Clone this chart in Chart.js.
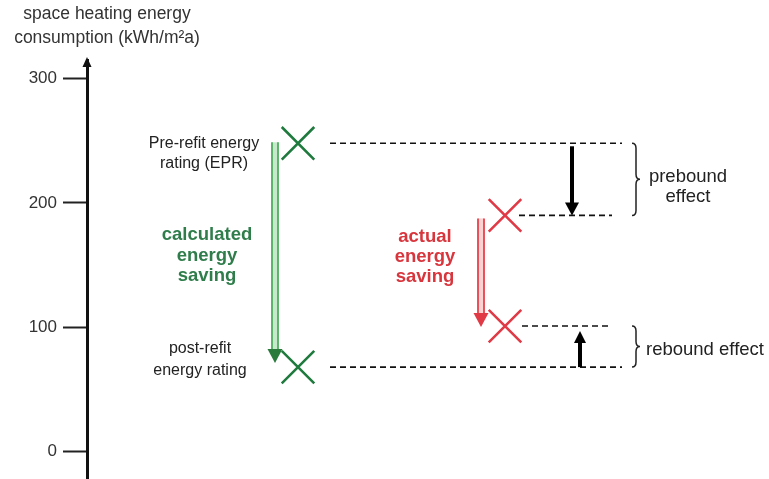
<!DOCTYPE html>
<html>
<head>
<meta charset="utf-8">
<script src="https://cdn.jsdelivr.net/npm/chart.js@4.4.0/dist/chart.umd.min.js"></script>
<style>
  html, body { margin: 0; padding: 0; background: #ffffff; }
  canvas { display: block; }
</style>
</head>
<body>
<canvas id="c" width="769" height="479"></canvas>
<script>
// ---------------- DATA ----------------
const yTicks = [0, 100, 200, 300];
const axisTitle = ['space heating energy', 'consumption (kWh/m\u00B2a)'];
// calculated (rating) values: pre-refit EPR, post-refit rating
const calculatedValues = [248, 68];
// actual consumption: before refit, after refit
const actualValues = [190, 101];
const preRatingLabel = ['Pre-refit energy', 'rating (EPR)'];
const postRatingLabel = ['post-refit', 'energy rating'];
const calculatedSavingLabel = ['calculated', 'energy', 'saving'];
const actualSavingLabel = ['actual', 'energy', 'saving'];
const preboundLabel = ['prebound', 'effect'];
const reboundLabel = ['rebound effect'];

// ---------------- LAYOUT / STYLE ----------------
// x scale runs 0..682 across the plot area (axis at the left edge)
const POS = {
  calc: 211, act: 418,
  dashCalcFrom: 243, dashTo: 535,
  dashActFrom: 432, dashActTo: 525,
  greenArrow: 188, redArrow: 394,
  preArrow: 485, reArrow: 493,
  braceL: 545, braceR: 553,
  preLabelX: 117, postLabelX: 113,
  calcTextX: 120, actTextX: 338,
  preboundTextX: 601, reboundTextX: 559
};
const FONT = "'Liberation Sans', Arial, Helvetica, sans-serif";
const GREEN_X = '#1f7a3e';
const GREEN_TXT = '#2f7d4b';
const GREEN_HEAD = '#2a7a3c';
const GREEN_LINE = '#4fae60';
const GREEN_FILL = '#c6e8cb';
const RED_X = '#e03a46';
const RED_TXT = '#d8353d';
const RED_LINE = '#e8424c';
const RED_FILL = '#fbd3d3';
const INK = '#222222';

function dashed(xFrom, xTo, v) {
  return {
    type: 'line',
    data: [{ x: xFrom, y: v }, { x: xTo, y: v }],
    borderColor: '#111',
    borderWidth: 1.6,
    borderDash: [6, 4],
    pointRadius: 0,
    showLine: true,
    fill: false
  };
}

function arrowDown(ctx, x, yTop, yTip, headH, headW, shaftW, color) {
  ctx.fillStyle = color;
  ctx.fillRect(x - shaftW / 2, yTop, shaftW, yTip - headH - yTop + 1);
  ctx.beginPath();
  ctx.moveTo(x - headW / 2, yTip - headH);
  ctx.lineTo(x + headW / 2, yTip - headH);
  ctx.lineTo(x, yTip);
  ctx.closePath();
  ctx.fill();
}
function arrowUp(ctx, x, yBottom, yTip, headH, headW, shaftW, color) {
  ctx.fillStyle = color;
  ctx.fillRect(x - shaftW / 2, yTip + headH - 1, shaftW, yBottom - (yTip + headH) + 1);
  ctx.beginPath();
  ctx.moveTo(x - headW / 2, yTip + headH);
  ctx.lineTo(x + headW / 2, yTip + headH);
  ctx.lineTo(x, yTip);
  ctx.closePath();
  ctx.fill();
}
function hollowArrowDown(ctx, x, yTop, yTip, lineColor, fillColor, headColor) {
  const headH = 14, headW = 15, w = 6;
  const yBase = yTip - headH;
  ctx.fillStyle = fillColor;
  ctx.fillRect(x - w / 2, yTop, w, yBase - yTop);
  ctx.strokeStyle = lineColor;
  ctx.lineWidth = 1.8;
  ctx.beginPath();
  ctx.moveTo(x - w / 2, yTop); ctx.lineTo(x - w / 2, yBase);
  ctx.moveTo(x + w / 2, yTop); ctx.lineTo(x + w / 2, yBase);
  ctx.stroke();
  ctx.fillStyle = headColor;
  ctx.beginPath();
  ctx.moveTo(x - headW / 2, yBase);
  ctx.lineTo(x + headW / 2, yBase);
  ctx.lineTo(x, yTip);
  ctx.closePath();
  ctx.fill();
}
function brace(ctx, xL, xR, y1, y2) {
  const xM = (xL + xR) / 2;
  const ym = (y1 + y2) / 2;
  const r = 5;
  ctx.strokeStyle = INK;
  ctx.lineWidth = 1.5;
  ctx.beginPath();
  ctx.moveTo(xL, y1);
  ctx.quadraticCurveTo(xM, y1, xM, y1 + r);
  ctx.lineTo(xM, ym - r);
  ctx.quadraticCurveTo(xM, ym, xR, ym);
  ctx.quadraticCurveTo(xM, ym, xM, ym + r);
  ctx.lineTo(xM, y2 - r);
  ctx.quadraticCurveTo(xM, y2, xL, y2);
  ctx.stroke();
}
function lines(ctx, arr, x, y0, step, align, baseline) {
  ctx.textAlign = align;
  ctx.textBaseline = baseline;
  arr.forEach((t, i) => ctx.fillText(t, x, y0 + i * step));
}

const overlay = {
  id: 'overlay',
  afterDatasetsDraw(chart) {
    const ctx = chart.ctx;
    const xs = chart.scales.x, ys = chart.scales.y;
    const X = v => xs.getPixelForValue(v);
    const Y = v => ys.getPixelForValue(v);
    const area = chart.chartArea;
    ctx.save();

    // y-axis arrow head
    ctx.fillStyle = '#111';
    ctx.beginPath();
    ctx.moveTo(area.left - 4.5, area.top + 7);
    ctx.lineTo(area.left + 4.5, area.top + 7);
    ctx.lineTo(area.left, area.top - 3);
    ctx.closePath();
    ctx.fill();

    // axis title
    ctx.fillStyle = '#333';
    ctx.font = '17.5px ' + FONT;
    lines(ctx, axisTitle, 107, 14, 24, 'center', 'middle');

    const yPre = Y(calculatedValues[0]), yPost = Y(calculatedValues[1]);
    const yActA = Y(actualValues[0]), yActB = Y(actualValues[1]);

    // rating labels
    ctx.fillStyle = INK;
    ctx.font = '16px ' + FONT;
    lines(ctx, preRatingLabel, X(POS.preLabelX), yPre, 20, 'center', 'middle');
    lines(ctx, postRatingLabel, X(POS.postLabelX), yPost - 19, 22, 'center', 'middle');

    // saving texts
    ctx.font = 'bold 18.5px ' + FONT;
    ctx.fillStyle = GREEN_TXT;
    lines(ctx, calculatedSavingLabel, X(POS.calcTextX), (yPre + yPost) / 2 - 15, 20.5, 'center', 'alphabetic');
    ctx.fillStyle = RED_TXT;
    lines(ctx, actualSavingLabel, X(POS.actTextX), (yActA + yActB) / 2 - 29, 20, 'center', 'alphabetic');

    // saving arrows
    hollowArrowDown(ctx, X(POS.greenArrow), yPre - 1, yPost - 4, GREEN_LINE, GREEN_FILL, GREEN_HEAD);
    hollowArrowDown(ctx, X(POS.redArrow), yActA + 3, yActB + 1, RED_LINE, RED_FILL, RED_X);

    // prebound / rebound arrows
    arrowDown(ctx, X(POS.preArrow), yPre + 3, yActA, 13, 14, 4, '#000');
    arrowUp(ctx, X(POS.reArrow), yPost, yActB + 5, 12, 12, 4, '#000');

    // braces
    brace(ctx, X(POS.braceL), X(POS.braceR), yPre, yActA);
    brace(ctx, X(POS.braceL), X(POS.braceR), yActB, yPost);

    ctx.fillStyle = INK;
    ctx.font = '18.5px ' + FONT;
    lines(ctx, preboundLabel, X(POS.preboundTextX), (yPre + yActA) / 2 - 2, 20, 'center', 'middle');
    lines(ctx, reboundLabel, X(POS.reboundTextX), (yActB + yPost) / 2 + 3, 20, 'left', 'middle');

    ctx.restore();
  }
};

new Chart(document.getElementById('c'), {
  type: 'scatter',
  data: {
    datasets: [
      dashed(POS.dashCalcFrom, POS.dashTo, calculatedValues[0]),
      dashed(POS.dashCalcFrom, POS.dashTo, calculatedValues[1]),
      dashed(POS.dashActFrom, POS.dashActTo, actualValues[0]),
      dashed(POS.dashActFrom + 3, POS.dashActTo, actualValues[1]),
      {
        label: 'calculated',
        data: calculatedValues.map(v => ({ x: POS.calc, y: v })),
        pointStyle: 'crossRot',
        pointRadius: 23,
        pointBorderWidth: 2.6,
        borderColor: GREEN_X,
        backgroundColor: GREEN_X
      },
      {
        label: 'actual',
        data: actualValues.map(v => ({ x: POS.act, y: v })),
        pointStyle: 'crossRot',
        pointRadius: 23,
        pointBorderWidth: 2.6,
        borderColor: RED_X,
        backgroundColor: RED_X
      }
    ]
  },
  options: {
    responsive: false,
    animation: false,
    devicePixelRatio: 1,
    layout: { autoPadding: false, padding: { top: 60, left: 0, right: 0, bottom: 0 } },
    plugins: { legend: { display: false }, tooltip: { enabled: false } },
    scales: {
      x: {
        type: 'linear', display: false, min: 0, max: 682,
        afterFit: s => { s.paddingLeft = 0; s.paddingRight = 0; s.paddingTop = 0; s.paddingBottom = 0; }
      },
      y: {
        type: 'linear',
        min: -22, max: 315,
        afterBuildTicks: s => { s.ticks = yTicks.map(v => ({ value: v })); },
        afterFit: s => {
          s.width = 87;
          s.paddingTop = 0; s.paddingBottom = 0; s.paddingLeft = 0; s.paddingRight = 0;
        },
        grid: { drawOnChartArea: false, drawTicks: true, tickLength: 24, tickWidth: 2, tickColor: '#222' },
        border: { display: true, color: '#111', width: 3 },
        ticks: { font: { family: FONT, size: 17 }, color: '#333', padding: 6 }
      }
    }
  },
  plugins: [overlay]
});
</script>
</body>
</html>
